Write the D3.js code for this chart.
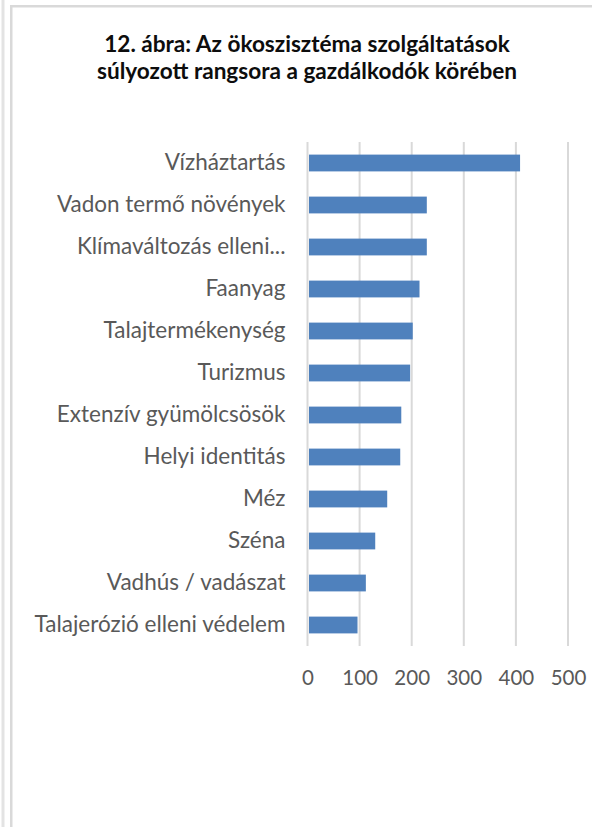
<!DOCTYPE html>
<html>
<head>
<meta charset="utf-8">
<script src="https://cdn.jsdelivr.net/npm/d3@7"></script>
<style>
  body { margin: 0; background: #fff; }
  svg { display: block; }
</style>
</head>
<body>
<script>
/*--- data ---*/
let categories = [
  "Vízháztartás",
  "Vadon termő növények",
  "Klímaváltozás elleni...",
  "Faanyag",
  "Talajtermékenység",
  "Turizmus",
  "Extenzív gyümölcsösök",
  "Helyi identitás",
  "Méz",
  "Széna",
  "Vadhús / vadászat",
  "Talajerózió elleni védelem"
];
let values = [408, 229, 229, 215, 202, 197, 180, 178, 153, 130, 112, 96];
let ticks = [0, 100, 200, 300, 400, 500];
let titleLines = [
  "12. ábra: Az ökoszisztéma szolgáltatások",
  "súlyozott rangsora a gazdálkodók körében"
];

/*--- variables ---*/
let width = 592;
let height = 827;
let plot = {left: 307.5, right: 568, top: 142, bottom: 646};
let font = "Lato, 'Open Sans', sans-serif";
let gridColor = "#d9d9d9";
let textColor = "#595959";
let barColor = "#4f81bd";

let X = d3.scaleLinear().domain([0, 500]).range([plot.left, plot.right]);
let Y = d3.scaleBand().domain(categories).range([plot.top, plot.bottom])
  .paddingInner(0.6).paddingOuter(0.3);

let svg = d3.select("body").append("svg")
  .attr("width", width)
  .attr("height", height);

// frame of the chart box
svg.append("rect").attr("x", 1.5).attr("y", 0).attr("width", 3).attr("height", height).attr("fill", "#e3e3e3");
svg.append("rect").attr("x", 10).attr("y", 5).attr("width", 2.5).attr("height", height).attr("fill", gridColor);
svg.append("rect").attr("x", 10).attr("y", 5).attr("width", width).attr("height", 2.5).attr("fill", gridColor);

// title
svg.append("text")
  .attr("x", 307)
  .attr("y", 52)
  .attr("text-anchor", "middle")
  .attr("font-family", font)
  .attr("font-weight", "bold")
  .attr("font-size", 22.6)
  .attr("fill", "#0d0d0d")
  .selectAll("tspan")
  .data(titleLines)
  .join("tspan")
  .attr("x", 307)
  .attr("dy", (d, i) => i == 0 ? 0 : 27)
  .text(d => d);

// vertical gridlines
svg.append("g")
  .selectAll("line")
  .data(ticks)
  .join("line")
  .attr("x1", d => X(d))
  .attr("x2", d => X(d))
  .attr("y1", plot.top)
  .attr("y2", plot.bottom)
  .attr("stroke", gridColor)
  .attr("stroke-width", 2);

// bars
svg.append("g")
  .selectAll("rect")
  .data(values)
  .join("rect")
  .attr("x", X(0) + 1.5)
  .attr("y", (d, i) => Y(categories[i]))
  .attr("width", d => X(d) - X(0) - 1.5)
  .attr("height", Y.bandwidth())
  .attr("fill", barColor);

// x axis labels
let xEje = d3.axisBottom(X).tickValues(ticks).tickSize(0).tickPadding(0);
let gx = svg.append("g")
  .attr("transform", "translate(0," + plot.bottom + ")")
  .call(xEje);
gx.select(".domain").remove();
gx.selectAll("text")
  .attr("dy", null)
  .attr("y", 39)
  .attr("font-family", font)
  .attr("font-size", 20.5)
  .attr("fill", textColor);

// y axis labels
let yEje = d3.axisLeft(Y).tickSize(0).tickPadding(22);
let gy = svg.append("g")
  .attr("transform", "translate(" + plot.left + ",0)")
  .call(yEje);
gy.select(".domain").remove();
gy.selectAll("text")
  .attr("font-family", font)
  .attr("font-size", 22.5)
  .attr("fill", textColor);
</script>
</body>
</html>
